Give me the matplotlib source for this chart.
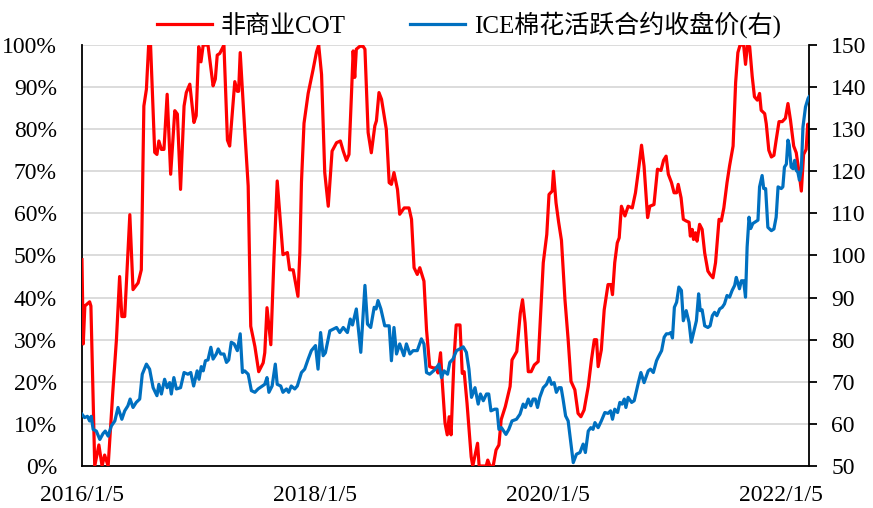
#! /usr/bin/env python3

import pandas as pd
import matplotlib
matplotlib.use('Agg')
import matplotlib.pyplot as plt
import matplotlib.dates as mdates
from matplotlib.ticker import FixedLocator, FuncFormatter

# 非商业COT (%)
cot_dates = [
    '2016-01-05', '2016-01-09', '2016-01-14', '2016-01-29', '2016-02-02', '2016-02-14', '2016-02-27',
    '2016-03-08', '2016-03-16', '2016-03-27', '2016-04-11', '2016-04-22', '2016-05-02', '2016-05-09',
    '2016-05-18', '2016-06-03', '2016-06-13', '2016-06-29', '2016-07-09', '2016-07-17', '2016-07-25',
    '2016-08-01', '2016-08-07', '2016-08-20', '2016-08-27', '2016-09-02', '2016-09-10', '2016-09-18',
    '2016-09-28', '2016-10-09', '2016-10-22', '2016-10-30', '2016-11-09', '2016-11-20', '2016-11-27',
    '2016-12-08', '2016-12-21', '2016-12-28',
    '2017-01-05', '2017-01-12', '2017-01-19', '2017-01-28', '2017-02-03', '2017-02-19', '2017-02-26',
    '2017-03-04', '2017-03-12', '2017-03-25', '2017-04-05', '2017-04-12', '2017-04-28', '2017-05-06',
    '2017-05-10', '2017-05-15', '2017-05-29', '2017-06-09', '2017-06-17', '2017-06-30', '2017-07-12',
    '2017-07-26', '2017-07-31', '2017-08-07', '2017-08-19', '2017-08-29', '2017-09-08', '2017-09-26',
    '2017-10-10', '2017-10-17', '2017-10-28', '2017-11-12', '2017-11-18', '2017-11-23', '2017-12-01',
    '2017-12-14', '2017-12-29',
    '2018-01-09', '2018-01-16', '2018-01-25', '2018-02-04', '2018-02-15', '2018-02-27', '2018-03-13',
    '2018-03-25', '2018-04-03', '2018-04-13', '2018-04-21', '2018-04-29', '2018-05-04', '2018-05-09',
    '2018-05-14', '2018-05-25', '2018-06-04', '2018-06-10', '2018-06-20', '2018-06-30', '2018-07-11',
    '2018-07-16', '2018-07-24', '2018-08-01', '2018-08-16', '2018-08-25', '2018-09-01', '2018-09-09',
    '2018-09-20', '2018-09-27', '2018-10-11', '2018-10-26', '2018-11-03', '2018-11-11', '2018-11-21',
    '2018-11-29', '2018-12-12', '2018-12-20', '2018-12-30',
    '2019-01-10', '2019-01-20', '2019-01-25', '2019-02-02', '2019-02-07', '2019-02-16', '2019-02-23',
    '2019-03-01', '2019-03-07', '2019-03-16', '2019-03-23', '2019-04-04', '2019-04-11', '2019-04-17',
    '2019-04-26', '2019-05-09', '2019-05-14', '2019-05-29', '2019-06-03', '2019-06-25', '2019-06-30',
    '2019-07-07', '2019-07-17', '2019-07-26', '2019-08-04', '2019-08-11', '2019-08-24', '2019-09-08',
    '2019-09-14', '2019-09-29', '2019-10-10', '2019-10-17', '2019-10-25', '2019-11-04', '2019-11-13',
    '2019-11-23', '2019-12-05', '2019-12-13', '2019-12-21',
    '2020-01-01', '2020-01-08', '2020-01-18', '2020-01-22', '2020-01-30', '2020-02-07', '2020-02-16',
    '2020-02-27', '2020-03-08', '2020-03-17', '2020-03-29', '2020-04-08', '2020-04-17', '2020-04-27',
    '2020-05-10', '2020-05-20', '2020-05-29', '2020-06-05', '2020-06-10', '2020-06-20', '2020-06-29',
    '2020-07-11', '2020-07-20', '2020-07-25', '2020-08-01', '2020-08-09', '2020-08-15', '2020-08-22',
    '2020-09-02', '2020-09-12', '2020-09-25', '2020-10-05', '2020-10-16', '2020-10-24', '2020-11-01',
    '2020-11-12', '2020-11-19', '2020-12-02', '2020-12-13', '2020-12-24',
    '2021-01-01', '2021-01-09', '2021-01-16', '2021-01-26', '2021-02-03', '2021-02-11', '2021-02-16',
    '2021-02-25', '2021-03-04', '2021-03-13', '2021-03-22', '2021-03-26', '2021-04-01', '2021-04-05',
    '2021-04-11', '2021-04-16', '2021-04-24', '2021-05-02', '2021-05-10', '2021-05-20', '2021-05-27',
    '2021-06-05', '2021-06-13', '2021-06-24', '2021-07-01', '2021-07-09', '2021-07-19', '2021-07-27',
    '2021-08-07', '2021-08-15', '2021-08-22', '2021-08-29', '2021-09-09', '2021-09-15', '2021-09-21',
    '2021-09-28', '2021-10-06', '2021-10-13', '2021-10-22', '2021-10-29', '2021-11-03', '2021-11-14',
    '2021-11-19', '2021-11-27', '2021-12-05', '2021-12-13', '2021-12-20', '2021-12-29',
    '2022-01-08', '2022-01-18', '2022-01-26', '2022-02-03', '2022-02-13', '2022-02-21', '2022-03-02',
    '2022-03-09', '2022-03-16', '2022-03-24', '2022-03-29', '2022-04-02',
]
cot_values = [
    49.0, 29.0, 38.0, 39.0, 38.0, 0.0, 5.0,
    0.0, 2.6, 0.0, 18.0, 30.0, 45.0, 35.5,
    35.5, 59.7, 41.9, 43.5, 46.6, 85.5, 89.5,
    100.0, 100.0, 74.5, 74.0, 77.2, 75.2, 75.2,
    88.3, 69.3, 84.4, 83.6, 65.7, 85.5, 88.7,
    90.7, 81.6, 83.2,
    99.6, 96.0, 100.0, 100.0, 100.0, 90.3, 91.9,
    97.6, 98.0, 100.0, 77.4, 76.0, 91.3, 89.0,
    89.0, 98.2, 80.0, 66.5, 33.2, 28.4, 22.4,
    24.5, 26.9, 37.6, 28.8, 49.8, 67.7, 50.2,
    50.7, 46.6, 46.6, 40.3, 50.7, 67.4, 81.4,
    88.5, 94.0,
    98.3, 100.0, 93.0, 69.7, 61.7, 74.8, 76.8,
    77.2, 74.8, 72.6, 74.0, 88.7, 98.6, 92.3,
    99.0, 99.7, 99.7, 99.0, 79.2, 74.4, 80.8,
    82.0, 88.7, 87.1, 80.0, 67.3, 66.9, 69.7,
    65.7, 59.8, 61.3, 61.3, 58.6, 47.1, 45.5,
    47.1, 43.9, 32.4, 23.6,
    23.3, 23.3, 22.1, 26.9, 20.4, 10.2, 7.4,
    11.7, 7.4, 25.2, 33.5, 33.5, 22.0, 22.4,
    14.9, 2.2, 0.0, 5.4, 0.0, 0.0, 1.4,
    0.0, 0.0, 3.8, 5.0, 11.0, 14.1, 18.9,
    25.2, 27.2, 36.3, 39.5, 34.0, 22.4, 22.4,
    24.0, 24.8, 36.3, 48.3,
    55.0, 64.5, 65.3, 70.0, 62.5, 58.0, 53.6,
    39.5, 30.0, 20.1, 18.1, 12.5, 11.7, 13.3,
    18.9, 25.2, 30.0, 30.0, 23.6, 27.6, 37.1,
    43.1, 43.1, 40.7, 48.3, 53.0, 54.2, 61.7,
    59.4, 61.7, 61.3, 64.9, 71.2, 76.2, 71.2,
    59.0, 61.7, 62.1, 70.5, 70.2,
    72.6, 73.6, 69.3, 67.3, 64.9, 64.9, 66.9,
    63.7, 58.6, 58.2, 57.9, 54.6, 56.2, 53.8,
    55.4, 53.4, 57.4, 56.2, 50.6, 46.3, 45.5,
    44.7, 48.3, 58.6, 58.2, 61.3, 67.3, 71.3,
    76.0, 91.1, 98.2, 100.0, 100.0, 95.4, 100.0,
    99.6, 92.5, 87.7, 86.9, 88.5, 84.5, 83.7,
    81.3, 75.0, 73.4, 73.8, 77.4, 81.8,
    81.8, 82.6, 86.1, 82.1, 76.0, 74.4, 69.6,
    65.3, 74.0, 75.2, 81.2, 77.0,
]

# ICE棉花活跃合约收盘价 (右轴)
price_dates = [
    '2016-01-05', '2016-01-13', '2016-01-22', '2016-01-29', '2016-02-03', '2016-02-09', '2016-02-19',
    '2016-03-01', '2016-03-11', '2016-03-18', '2016-03-27', '2016-04-06', '2016-04-17', '2016-04-27',
    '2016-05-09', '2016-05-18', '2016-05-28', '2016-06-04', '2016-06-13', '2016-06-23', '2016-07-04',
    '2016-07-12', '2016-07-25', '2016-08-04', '2016-08-15', '2016-08-27', '2016-09-02', '2016-09-10',
    '2016-09-20', '2016-09-28', '2016-10-06', '2016-10-11', '2016-10-19', '2016-10-27', '2016-11-09',
    '2016-11-20', '2016-12-02', '2016-12-11', '2016-12-20', '2016-12-31',
    '2017-01-06', '2017-01-13', '2017-01-19', '2017-01-26', '2017-02-03', '2017-02-12', '2017-02-19',
    '2017-03-01', '2017-03-07', '2017-03-15', '2017-03-25', '2017-04-02', '2017-04-09', '2017-04-17',
    '2017-04-26', '2017-05-06', '2017-05-15', '2017-05-22', '2017-05-29', '2017-06-09', '2017-06-19',
    '2017-06-30', '2017-07-10', '2017-07-23', '2017-07-31', '2017-08-07', '2017-08-13', '2017-08-23',
    '2017-09-02', '2017-09-08', '2017-09-19', '2017-09-26', '2017-10-07', '2017-10-14', '2017-10-22',
    '2017-11-02', '2017-11-10', '2017-11-23', '2017-12-03', '2017-12-14', '2017-12-24',
    '2018-01-06', '2018-01-14', '2018-01-22', '2018-01-30', '2018-02-06', '2018-02-20', '2018-03-13',
    '2018-03-23', '2018-04-03', '2018-04-16', '2018-04-25', '2018-05-02', '2018-05-14', '2018-05-28',
    '2018-06-10', '2018-06-18', '2018-06-28', '2018-07-09', '2018-07-15', '2018-07-21', '2018-07-30',
    '2018-08-11', '2018-08-25', '2018-09-01', '2018-09-09', '2018-09-17', '2018-09-27', '2018-10-10',
    '2018-10-18', '2018-10-29', '2018-11-08', '2018-11-21', '2018-12-04', '2018-12-12', '2018-12-20',
    '2018-12-30',
    '2019-01-17', '2019-01-28', '2019-02-05', '2019-02-13', '2019-02-24', '2019-03-03', '2019-03-13',
    '2019-03-24', '2019-04-03', '2019-04-14', '2019-04-24', '2019-05-02', '2019-05-10', '2019-05-21',
    '2019-05-31', '2019-06-07', '2019-06-16', '2019-06-26', '2019-07-03', '2019-07-10', '2019-07-22',
    '2019-07-29', '2019-08-04', '2019-08-12', '2019-08-26', '2019-09-04', '2019-09-14', '2019-09-28',
    '2019-10-09', '2019-10-19', '2019-10-26', '2019-11-04', '2019-11-12', '2019-11-19', '2019-11-26',
    '2019-12-03', '2019-12-10', '2019-12-21', '2019-12-31',
    '2020-01-09', '2020-01-16', '2020-01-24', '2020-01-31', '2020-02-08', '2020-02-15', '2020-02-21',
    '2020-02-29', '2020-03-08', '2020-03-17', '2020-03-24', '2020-04-03', '2020-04-14', '2020-04-24',
    '2020-05-01', '2020-05-10', '2020-05-18', '2020-05-25', '2020-05-31', '2020-06-10', '2020-06-20',
    '2020-07-01', '2020-07-11', '2020-07-19', '2020-07-25', '2020-08-01', '2020-08-10', '2020-08-17',
    '2020-08-24', '2020-08-31', '2020-09-05', '2020-09-12', '2020-09-23', '2020-10-01', '2020-10-14',
    '2020-10-22', '2020-11-01', '2020-11-14', '2020-11-21', '2020-11-30', '2020-12-10', '2020-12-15',
    '2020-12-26',
    '2021-01-03', '2021-01-10', '2021-01-18', '2021-01-24', '2021-01-29', '2021-02-04', '2021-02-11',
    '2021-02-18', '2021-02-26', '2021-03-04', '2021-03-13', '2021-03-22', '2021-03-29', '2021-04-14',
    '2021-04-21', '2021-04-26', '2021-05-02', '2021-05-10', '2021-05-20', '2021-05-27', '2021-06-03',
    '2021-06-10', '2021-06-17', '2021-06-26', '2021-07-04', '2021-07-11', '2021-07-19', '2021-07-27',
    '2021-08-04', '2021-08-12', '2021-08-17', '2021-08-22', '2021-08-27', '2021-09-02', '2021-09-09',
    '2021-09-15', '2021-09-20', '2021-09-26', '2021-10-01', '2021-10-08', '2021-10-16', '2021-10-24',
    '2021-10-29', '2021-11-06', '2021-11-11', '2021-11-17', '2021-11-24', '2021-12-05', '2021-12-13',
    '2021-12-20', '2021-12-26',
    '2022-01-05', '2022-01-10', '2022-01-15', '2022-01-21', '2022-01-26', '2022-01-30', '2022-02-05',
    '2022-02-11', '2022-02-16', '2022-02-21', '2022-02-26', '2022-03-03', '2022-03-09', '2022-03-14',
    '2022-03-22', '2022-03-30', '2022-04-02',
]
price_values = [
    62.3, 61.5, 61.8, 60.7, 61.8, 58.7, 58.3,
    56.3, 57.7, 58.3, 57.1, 59.5, 60.7, 63.9,
    61.1, 63.1, 64.3, 65.9, 63.9, 65.1, 65.9,
    71.8, 74.2, 73.0, 68.6, 66.7, 69.4, 67.1,
    70.6, 68.6, 69.8, 67.1, 71.0, 68.3, 68.6,
    72.2, 71.8, 72.2, 69.0, 72.6,
    70.6, 73.6, 72.6, 75.0, 75.2, 78.2, 75.4,
    76.6, 77.8, 76.6, 76.6, 74.6, 75.2, 79.4,
    79.0, 77.4, 81.4, 72.2, 72.6, 71.8, 67.9,
    67.5, 68.3, 69.0, 69.4, 71.0, 67.5, 69.0,
    74.2, 69.4, 69.0, 67.5, 68.3, 67.5, 69.0,
    68.3, 69.0, 72.2, 73.0, 75.4, 77.4,
    78.6, 73.0, 81.7, 76.2, 76.9, 82.1, 82.9,
    81.7, 82.9, 81.7, 84.9, 83.5, 87.3, 77.0,
    92.9, 83.7, 82.9, 87.7, 87.3, 89.3, 87.3,
    83.3, 83.3, 75.0, 82.9, 76.6, 79.0, 76.2,
    79.0, 76.6, 77.4, 77.4, 80.2, 79.0, 72.2,
    71.8,
    73.0, 74.2, 71.0, 72.6, 71.8, 74.6, 75.4,
    77.4, 77.8, 78.3, 77.0, 73.0, 66.3, 68.6,
    64.7, 67.1, 65.5, 67.1, 67.1, 63.1, 63.5,
    63.5, 58.7, 59.1, 57.5, 58.7, 60.7, 61.1,
    62.3, 64.7, 63.9, 65.9, 64.3, 65.9, 65.9,
    63.9, 66.3, 68.6, 69.4,
    71.0, 69.4, 69.8, 67.5, 68.6, 68.6, 65.9,
    61.9, 60.7, 55.2, 50.8, 52.8, 53.2, 55.2,
    53.2, 58.3, 59.1, 58.7, 60.3, 59.1, 60.7,
    62.7, 62.5, 63.1, 61.1, 63.5, 62.7, 65.1,
    64.7, 65.9, 63.9, 66.3, 65.1, 65.5, 69.8,
    72.2, 69.8, 72.6, 73.0, 72.2, 75.0, 75.8,
    77.4,
    80.6, 81.4, 81.4, 81.7, 80.4, 87.7, 88.9,
    92.5, 91.7, 84.5, 86.9, 84.1, 79.4, 84.5,
    90.9, 86.9, 87.1, 83.3, 82.9, 83.3, 85.7,
    86.5, 85.7, 87.3, 87.7, 88.5, 90.5, 90.1,
    91.7, 92.9, 94.8, 93.5, 92.1, 94.0, 94.0,
    90.1, 102.0, 109.1, 106.4, 107.6, 108.0, 108.4,
    116.3, 119.0, 115.9, 115.9, 106.7, 105.9, 106.3,
    109.1, 116.3,
    115.9, 116.3, 121.0, 121.7, 127.4, 126.2, 121.0,
    120.6, 122.6, 120.2, 119.8, 117.9, 120.6, 130.5,
    135.3, 137.3, 137.7,
]

tick_dates = ['2016-01-05', '2018-01-05', '2020-01-05', '2022-01-05']
tick_labels = ['2016/1/5', '2018/1/5', '2020/1/5', '2022/1/5']
legend_labels = ['非商业COT', 'ICE棉花活跃合约收盘价(右)']


def main():
    plt.rcParams['font.family'] = ['Liberation Serif', 'Noto Sans CJK SC']
    plt.rcParams['font.size'] = 17

    cot_x = pd.to_datetime(cot_dates)
    price_x = pd.to_datetime(price_dates)

    fig = plt.figure(figsize=(8.73, 5.08), dpi=100)
    ax = fig.add_axes([0.0939, 0.0827, 0.8328, 0.8287])
    ax2 = ax.twinx()

    red_line, = ax.plot(cot_x, cot_values, color='#FF0000', lw=2.3, zorder=3)
    blue_line, = ax2.plot(price_x, price_values, color='#0070C0', lw=2.3, zorder=3)

    ax.set_xlim(pd.Timestamp(cot_dates[0]), pd.Timestamp(cot_dates[-1]))
    ax.set_ylim(0, 100)
    ax2.set_ylim(50, 150)

    ax.yaxis.set_major_locator(FixedLocator(range(0, 101, 10)))
    ax.yaxis.set_major_formatter(FuncFormatter(lambda v, _: f'{v:.0f}%'))
    ax2.yaxis.set_major_locator(FixedLocator(range(50, 151, 10)))

    ax.set_xticks(mdates.date2num(pd.to_datetime(tick_dates)))
    ax.set_xticklabels(tick_labels)

    ax.grid(axis='y', color='#D9D9D9', lw=1.3)
    ax.set_axisbelow(True)

    for a in (ax, ax2):
        a.spines['top'].set_visible(False)
        for s in a.spines.values():
            s.set_color('black')
            s.set_linewidth(1.3)
    ax.spines['right'].set_visible(False)
    ax2.spines['left'].set_visible(False)
    ax2.spines['bottom'].set_visible(False)

    ax.tick_params(axis='y', length=0, pad=18)
    ax.tick_params(axis='x', length=0, pad=14)
    ax2.tick_params(axis='y', direction='out', length=6, width=1.3, pad=10)

    fig.legend([red_line, blue_line], legend_labels, loc='upper center',
               bbox_to_anchor=(0.537, 1.022), ncol=2, frameon=False, fontsize=18,
               handlelength=2.2, handletextpad=0.35, columnspacing=2.6)

    fig.savefig('out.png', dpi=100)


if __name__ == "__main__":
    main()
